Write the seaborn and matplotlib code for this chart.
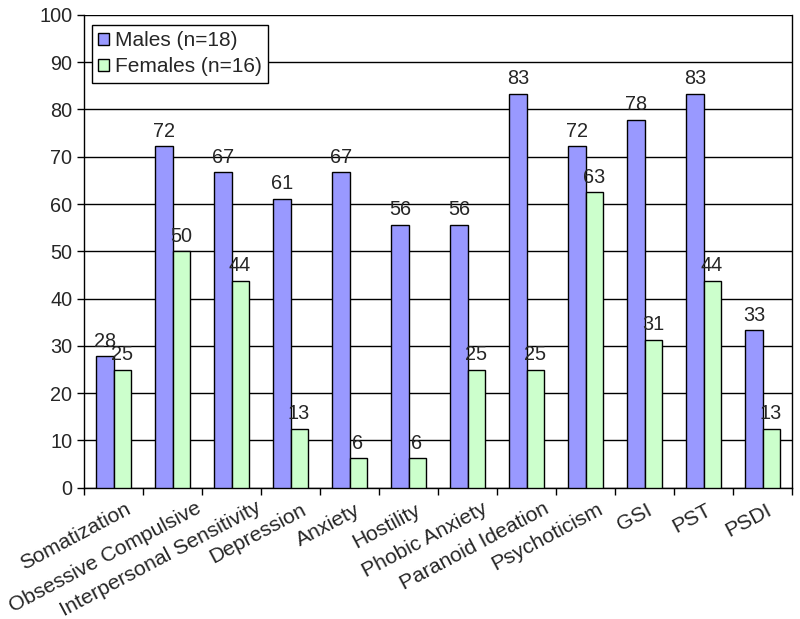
import numpy as np
import pandas as pd
import seaborn as sns
import matplotlib.pyplot as plt
from matplotlib.font_manager import FontProperties

categories = ['Somatization', 'Obsessive Compulsive', 'Interpersonal Sensitivity',
              'Depression', 'Anxiety', 'Hostility', 'Phobic Anxiety',
              'Paranoid Ideation', 'Psychoticism', 'GSI', 'PST', 'PSDI']
males = [27.8, 72.2, 66.7, 61.1, 66.7, 55.6, 55.6, 83.3, 72.2, 77.8, 83.3, 33.3]
females = [25.0, 50.0, 43.75, 12.5, 6.25, 6.25, 25.0, 25.0, 62.5, 31.25, 43.75, 12.5]
male_labels = ['28', '72', '67', '61', '67', '56', '56', '83', '72', '78', '83', '33']
female_labels = ['25', '50', '44', '13', '6', '6', '25', '25', '63', '31', '44', '13']
series = ['Males (n=18)', 'Females (n=16)']

df = pd.DataFrame({
    'category': categories * 2,
    'value': males + females,
    'group': [series[0]] * len(categories) + [series[1]] * len(categories),
})

sns.set_style('white')
plt.rcParams['font.family'] = ['Liberation Sans', 'DejaVu Sans']

fig = plt.figure(figsize=(8, 6.19), dpi=100)
ax = fig.add_axes([0.105, 0.212, 0.885, 0.764])

sns.barplot(data=df, x='category', y='value', hue='group', order=categories,
            hue_order=series, palette=['#9999FF', '#CCFFCC'], width=0.58,
            edgecolor='black', linewidth=1, saturation=1, ax=ax, zorder=3)

for cont, labs in zip(ax.containers, [male_labels, female_labels]):
    ax.bar_label(cont, labels=labs, padding=4, fontsize=14.3)

ax.set_ylim(0, 100)
ax.set_xlim(-0.5, len(categories) - 0.5)
ax.set_yticks(np.arange(0, 101, 10))
ax.yaxis.grid(True, color='black', linewidth=1)
ax.set_axisbelow(True)
ax.tick_params(axis='y', labelsize=14.3, length=5, width=1, left=True, direction='out', color='black')

# ticks sit between the categories
ax.set_xticks(np.arange(-0.5, len(categories), 1.0))
ax.set_xticklabels([])
ax.tick_params(axis='x', which='major', length=5, width=1, bottom=True, direction='out', color='black')

# rotated category labels, long ones pushed right a little (like Excel does)
renderer = fig.canvas.get_renderer()
fp = FontProperties(family=['Liberation Sans', 'DejaVu Sans'], size=15.2)
px2pt = 72 / fig.dpi
for i, name in enumerate(categories):
    w, h, d = renderer.get_text_width_height_descent(name, fp, ismath=False)
    dx = 0.12 * w - 3
    dy = -13 + 0.1 * dx
    ax.annotate(name, xy=(i, 0), xycoords=('data', 'axes fraction'),
                xytext=(dx * px2pt, dy * px2pt), textcoords='offset points',
                rotation=28, rotation_mode='anchor', ha='right', va='top',
                fontproperties=fp, annotation_clip=False)

for side in ['left', 'right', 'bottom']:
    ax.spines[side].set_color('black')
    ax.spines[side].set_linewidth(1)
ax.spines['top'].set_visible(False)
ax.set_xlabel('')
ax.set_ylabel('')

leg = ax.legend(loc='upper left', bbox_to_anchor=(0.0113, 0.979), borderaxespad=0,
                fontsize=15, frameon=True, fancybox=False, edgecolor='black',
                framealpha=1, handlelength=0.5, handleheight=0.5, handletextpad=0.3,
                borderpad=0.3, labelspacing=0.35)
leg.get_frame().set_linewidth(1)

fig.savefig('out.png', dpi=100)
